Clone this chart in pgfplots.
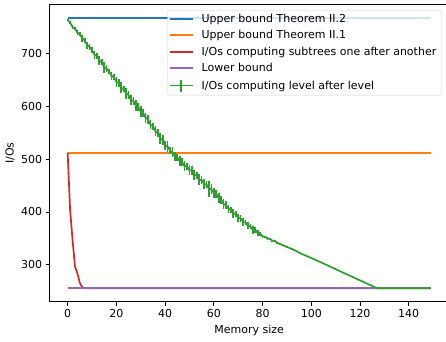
\documentclass[border=0pt]{standalone}
\usepackage{pgfplots}
\pgfplotsset{compat=1.18}
\usepackage{pgfplotstable}
\usepackage{fontspec}
\setmainfont{DejaVu Sans}
\usetikzlibrary{calc}
\definecolor{c0}{HTML}{1F77B4}
\definecolor{c1}{HTML}{FF7F0E}
\definecolor{c2}{HTML}{2CA02C}
\definecolor{c3}{HTML}{D62728}
\definecolor{c4}{HTML}{9467BD}

\pgfplotstableread{
x y e
0 763 2
1 758 3
2 750 4
3 747 3
4 739 5
5 736 4
6 728 6
7 724 4
8 715 7
9 712 5
10 706 6
11 697 8
12 695 5
13 686 9
14 683 6
15 673 10
16 671 7
17 666 5
18 657 8
19 655 6
20 646 9
21 644 7
22 635 10
23 632 6
24 624 11
25 621 8
26 612 9
27 610 7
28 601 10
29 598 8
30 590 11
31 587 7
32 578 10
33 575 8
34 565 9
35 562 7
36 553 10
37 549 8
38 539 11
39 536 9
40 526 8
41 524 10
42 516 7
43 513 9
44 505 8
45 503 7
46 496 10
47 494 8
48 487 9
49 486 7
50 479 10
51 478 8
52 470 9
53 469 7
54 461 10
55 460 8
56 453 9
57 452 7
58 444 15
59 443 9
60 436 10
61 434 8
62 426 9
63 423 7
64 415 9
65 413 7
66 406 8
67 404 6
68 397 8
69 396 6
70 389 7
71 388 6
72 381 8
73 380 5
74 374 7
75 373 5
76 366 7
77 366 5
78 360 6
79 359 4
80 354 3
81 353 2
82 350 3
83 349 2
84 346 2
85 345 2
86 342 1
87 340 2
88 338 1
89 336 1
90 334 1
91 332 1
92 330 1
93 328 1
94 326 1
95 323 0
100 313 0
105 302.6 0
110 292 0
115 281.3 0
120 270.7 0
125 260.2 0
127 256 0
149 256 0
}\levtable

\begin{document}
\begin{tikzpicture}
\begin{axis}[
  scale only axis,
  width=399.3pt, height=297.4pt,
  xmin=-7.45, xmax=156.45, ymin=230.45, ymax=792.55,
  xtick={0,20,...,140}, ytick={300,400,...,700},
  tick align=outside, tick pos=left,
  major tick length=3.9pt,
  tick style={black, line width=0.9pt},
  axis line style={line width=0.9pt},
  xlabel={Memory size}, ylabel={I/Os},
  label style={font=\fontsize{11}{13}\selectfont},
  xlabel style={at={(axis description cs:0.5,-0.098)},anchor=center},
  ylabel style={at={(axis description cs:-0.0989,0.5)},anchor=center},
  tick label style={font=\fontsize{11}{13}\selectfont},
  /pgf/number format/assume math mode=true,
  legend cell align=left,
  legend style={at={(axis description cs:0.9822,0.9808)}, anchor=north east,
    draw=black!20, fill=white, fill opacity=0.8, text opacity=1,
    rounded corners=2pt, font=\fontsize{11}{13}\selectfont,
    row sep=4.6pt, column sep=4pt, inner xsep=1pt, inner ysep=2.7pt,
    nodes={inner xsep=4.2pt, inner ysep=1pt}},
  legend image code/.code={\draw[#1, line width=1.7pt] (0pt,0pt) -- (23pt,0pt);},
]
\coordinate (sw) at (rel axis cs:0,0);
\addplot[c0, line width=1.7pt] coordinates {(0,767) (149,767)};
\addlegendentry{Upper bound Theorem II.2}
\addplot[c1, line width=1.7pt] coordinates {(0,512) (149,512)};
\addlegendentry{Upper bound Theorem II.1}
\addplot[c3, line width=1.7pt, line join=round] coordinates {(0,512) (1,405) (2,348) (3,297) (4,284) (5,266) (6,258) (7,256) (149,256)};
\addlegendentry{I/Os computing subtrees one after another}
\addplot[c4, line width=1.7pt] coordinates {(0,256) (149,256)};
\addlegendentry{Lower bound}
\addplot[c2, line width=1.7pt, line join=round,
  legend image code/.code={\draw[c2,line width=1.7pt] (0pt,0pt) -- (23pt,0pt); \draw[c2,line width=1.7pt] (11.5pt,-6pt) -- (11.5pt,6pt);},
  error bars/.cd, y dir=both, y explicit, error mark=none,
  error bar style={c2, line width=1.7pt}]
  table[x=x, y=y, y error=e] {\levtable};
\addlegendentry{I/Os computing level after level}
\end{axis}
\pgfresetboundingbox
\path[use as bounding box] ($(sw)+(-49.5pt,-40.2pt)$) rectangle ($(sw)+(396.5pt,301.7pt)$);
\end{tikzpicture}
\end{document}
